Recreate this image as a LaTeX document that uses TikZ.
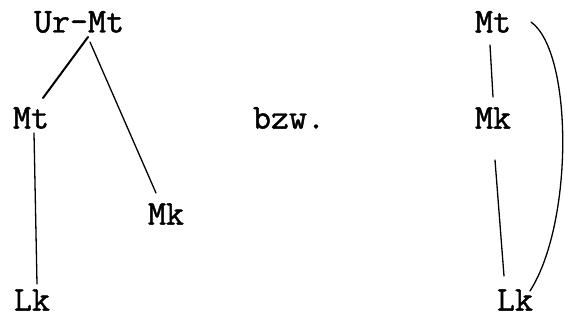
\documentclass[tikz,border=0pt]{standalone}
\usepackage{fontspec}
\setmonofont{Latin Modern Mono}[FakeBold=1.2]
\usetikzlibrary{calc}
\begin{document}
\begin{tikzpicture}[x=1pt,y=-1pt,
  lbl/.style={font=\ttfamily\fontsize{35}{35}\selectfont, inner sep=0pt, anchor=center},
  edge/.style={line width=1.3pt, line cap=round},
  thick edge/.style={line width=2pt, line cap=round}]
\useasboundingbox (0,0) rectangle (565,320);
% left tree
\node[lbl] (ur) at (79,22) {Ur-Mt};
\node[lbl] (mtl) at (31,118) {Mt};
\node[lbl] (mkl) at (166,214) {Mk};
\node[lbl] (lkl) at (32,300) {Lk};
\node[lbl] (bzw) at (289,118) {bzw.};
% right chain
\node[lbl] (mtr) at (493,22) {Mt};
\node[lbl] (mkr) at (493,118) {Mk};
\node[lbl] (lkr) at (515,300) {Lk};
% connectors
\draw[thick edge] ([shift={(9,15)}]ur.center) -- ([shift={(12,-20)}]mtl.center);
\draw[edge] ([shift={(11,20)}]ur.center) -- ([shift={(-10,-21)}]mkl.center);
\draw[edge] ([shift={(3,15)}]mtl.center) -- ([shift={(5,-16)}]lkl.center);
\draw[edge] ([shift={(-3,23)}]mtr.center) -- ([shift={(0,-21)}]mkr.center);
\draw[edge] ([shift={(2,42)}]mkr.center) -- ([shift={(-11,-24)}]lkr.center);
\draw[edge] ([shift={(38,0)}]mtr.center) .. controls (573,52) and (574,222) .. ([shift={(15,-9)}]lkr.center);
\end{tikzpicture}
\end{document}
